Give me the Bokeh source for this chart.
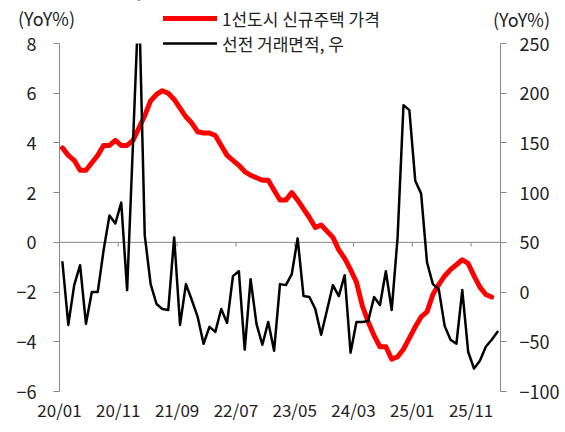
import numpy as np
from bokeh.plotting import figure
from bokeh.models import (Range1d, LinearAxis, FixedTicker, Legend, LegendItem, Label,
                          BoxAnnotation)
from bokeh.embed import file_html
from bokeh.resources import INLINE

# 1선도시 신규주택 가격 (YoY%, left axis), monthly from 20/01
red_vals = [3.8, 3.5, 3.3, 2.9, 2.9, 3.2, 3.5, 3.9, 3.9, 4.1,
            3.9, 3.9, 4.1, 4.6, 5.1, 5.7, 5.95, 6.1, 6.0, 5.75,
            5.4, 5.05, 4.8, 4.45, 4.4, 4.4, 4.3, 3.9, 3.5, 3.3,
            3.1, 2.85, 2.7, 2.6, 2.5, 2.5, 2.1, 1.7, 1.7, 2.0,
            1.7, 1.35, 1.0, 0.6, 0.7, 0.45, 0.2, -0.3, -0.65, -1.1,
            -1.6, -2.55, -3.2, -3.75, -4.2, -4.2, -4.7, -4.6, -4.3, -3.85,
            -3.4, -3.0, -2.8, -2.1, -1.7, -1.35, -1.1, -0.9, -0.7, -0.85,
            -1.35, -1.8, -2.1, -2.2]

# 선전 거래면적 (YoY%, right axis), monthly from 20/01
black_vals = [30, -33, 7, 27, -32, 0, 0, 42, 77, 69,
              90, 2, 150, 300, 57, 8, -12, -17, -18, 55,
              -33, 8, -8, -25, -52, -35, -40, -17, -31, 16,
              21, -58, 13, -32, -53, -30, -59, 8, 7, 18,
              54, -4, -5, -17, -43, -18, 7, -4, 17, -61,
              -30, -30, -29, -5, -13, 21, -18, 55, 188, 183,
              112, 99, 30, 8, 3, -34, -48, -52, 2, -60,
              -77, -69, -55, -48, -40]

tick_labels = ["20/01", "20/11", "21/09", "22/07", "23/05", "24/03", "25/01", "25/11"]
tick_months = [0, 10, 20, 30, 40, 50, 60, 70]
left_ticks = [-6, -4, -2, 0, 2, 4, 6, 8]
right_ticks = [-100, -50, 0, 50, 100, 150, 200, 250]
n_months = 75

FONT = "Noto Sans CJK KR"
TXT = "#222222"
AX = "#868686"

W, H = 565, 432
# plot-area box in pixels (left, right, top, bottom)
FL, FR, FT, FB = 59, 500, 43, 391
lo, hi = left_ticks[0], left_ticks[-1]
rlo, rhi = right_ticks[0], right_ticks[-1]
sx = (FR - FL) / n_months
sl = (FB - FT) / (hi - lo)
sr = (FB - FT) / (rhi - rlo)

x_red = np.arange(len(red_vals)) + 0.5
x_black = np.arange(len(black_vals)) + 0.5

p = figure(width=W, height=H, output_backend="svg", toolbar_location=None,
           x_range=Range1d(-FL / sx, n_months + (W - FR) / sx),
           y_range=Range1d(lo - (H - FB) / sl, hi + FT / sl),
           min_border_left=0, min_border_right=0, min_border_top=0, min_border_bottom=0,
           x_axis_type=None, y_axis_type=None)
p.extra_y_ranges = {"right": Range1d(rlo - (H - FB) / sr, rhi + FT / sr)}
p.xgrid.visible = False
p.ygrid.visible = False
p.outline_line_color = None
p.background_fill_color = "white"
p.border_fill_color = "white"

# zero line and category tick marks on it
p.segment(x0=[0], y0=[0], x1=[n_months], y1=[0], line_color=AX, line_width=1)
tx = [m for m in tick_months if m > 0]
p.segment(x0=tx, y0=[0] * len(tx), x1=tx, y1=[-0.17] * len(tx), line_color=AX, line_width=1)

r_red = p.line(x_red, red_vals, line_color="#FF0000", line_width=5, line_join="round", line_cap="round")
r_black = p.line(x_black, black_vals, line_color="#000000", line_width=2.5, line_join="round",
                 line_cap="round", y_range_name="right")

# bottom axis (labels only)
xa = LinearAxis(ticker=FixedTicker(ticks=tick_months), fixed_location=lo)
xa.major_label_overrides = {m: lab for m, lab in zip(tick_months, tick_labels)}
xa.axis_line_color = None
xa.major_tick_line_color = None
xa.major_tick_in = 0
xa.major_tick_out = 0
xa.minor_tick_line_color = None
xa.major_label_standoff = 5
xa.major_label_text_font = FONT
xa.major_label_text_font_size = "17px"
xa.major_label_text_color = TXT
p.add_layout(xa, "below")

# left axis
ya = LinearAxis(ticker=FixedTicker(ticks=left_ticks), fixed_location=0, bounds=(lo, hi))
ya.axis_line_color = AX
ya.major_tick_line_color = AX
ya.major_tick_in = 0
ya.major_tick_out = 6
ya.minor_tick_line_color = None
ya.major_label_standoff = 17
ya.major_label_text_font = FONT
ya.major_label_text_font_size = "18px"
ya.major_label_text_color = TXT
p.add_layout(ya, "left")

# right axis
yr = LinearAxis(y_range_name="right", ticker=FixedTicker(ticks=right_ticks),
                fixed_location=n_months, bounds=(rlo, rhi))
yr.axis_line_color = AX
yr.major_tick_line_color = AX
yr.major_tick_in = 0
yr.major_tick_out = 6
yr.minor_tick_line_color = None
yr.major_label_standoff = 13
yr.major_label_text_font = FONT
yr.major_label_text_font_size = "18px"
yr.major_label_text_color = TXT
p.add_layout(yr, "right")

# keep lines inside the plot area (clip above the top of the axes)
p.add_layout(BoxAnnotation(left=0, right=n_months, bottom=hi, top=p.y_range.end,
                           fill_color="white", fill_alpha=1, line_alpha=0))

legend_style = dict(glyph_width=54, glyph_height=26, label_height=26, label_standoff=5,
                    spacing=0, padding=0, margin=0, border_line_alpha=0,
                    background_fill_alpha=0, label_text_font=FONT,
                    label_text_font_size="17px", label_text_color=TXT)
# one legend per row: row centres at 18 px and 43 px from the top
leg_red = Legend(items=[LegendItem(label="1선도시 신규주택 가격", renderers=[r_red])],
                 location=(163, H - 18 - 13), **legend_style)
leg_black = Legend(items=[LegendItem(label="선전 거래면적, 우", renderers=[r_black])],
                   location=(163, H - 43 - 13), **legend_style)
p.add_layout(leg_red, "center")
p.add_layout(leg_black, "center")

p.add_layout(Label(x=46, y=H - 17, x_units="screen", y_units="screen", text="(YoY%)",
                   text_align="center", text_baseline="middle", text_font=FONT,
                   text_font_size="18px", text_color=TXT))
p.add_layout(Label(x=521, y=H - 18, x_units="screen", y_units="screen", text="(YoY%)",
                   text_align="center", text_baseline="middle", text_font=FONT,
                   text_font_size="18px", text_color=TXT))

open("out.html", "w").write(file_html(p, INLINE))
